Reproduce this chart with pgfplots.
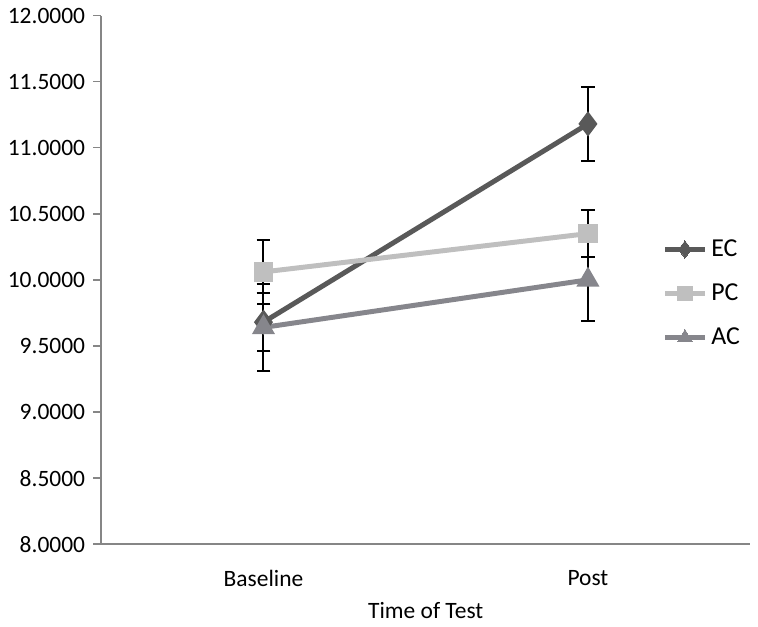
\documentclass[border=0pt]{standalone}
\usepackage{fontspec}
\setmainfont{Carlito}
\usepackage{pgfplots}
\pgfplotsset{compat=1.18}
\definecolor{ecgray}{RGB}{89,89,89}
\definecolor{pcgray}{RGB}{191,191,191}
\definecolor{acgray}{RGB}{134,134,140}
\definecolor{axgray}{RGB}{134,134,134}

\begin{document}
\fontsize{11.8}{14}\selectfont
\begin{tikzpicture}
\begin{axis}[
  width=326.5pt, height=266pt, scale only axis,
  xmin=-0.5, xmax=1.5, ymin=8, ymax=12,
  axis x line*=bottom, axis y line*=left,
  axis line style={axgray, line width=0.8pt},
  xtick={0,1}, xticklabels={Baseline,Post},
  major x tick style={draw=none},
  xticklabel style={yshift=-5pt},
  extra x ticks={-0.5,0.5,1.5}, extra x tick labels={},
  extra x tick style={tick style={axgray, line width=0.8pt}, major tick length=5pt},
  tick align=outside,
  ytick={8,8.5,...,12},
  y tick style={axgray, line width=0.8pt}, major tick length=4pt,
  yticklabel style={/pgf/number format/.cd, fixed, fixed zerofill, precision=4},
  /pgf/number format/assume math mode=true,
  xlabel={Time of Test},
  xlabel style={yshift=9pt},
  every tick label/.append style={font=\fontsize{11.8}{14}\selectfont},
  legend style={draw=none, fill=none, at={(1.0,0.474)}, anchor=east,
    row sep=8pt, font=\fontsize{13}{15}\selectfont},
  legend cell align=left,
  legend image code/.code={
    \draw[#1, mark=none] (0pt,0pt) -- (20pt,0pt);
    \draw[#1, line width=0pt] plot coordinates {(10pt,0pt)};
  },
  clip=false,
]
\addplot[ecgray, line width=2.5pt, mark=diamond*, mark size=4.3pt,
  error bars/.cd, y dir=both, y explicit,
  error bar style={black, line width=1pt},
  error mark options={black, line width=1pt, rotate=90, mark size=3.5pt}]
  coordinates {(0,9.68) +- (0,0.22) (1,11.18) +- (0,0.28)};
\addplot[pcgray, line width=2.5pt, mark=square*, mark size=3.6pt,
  error bars/.cd, y dir=both, y explicit,
  error bar style={black, line width=1pt},
  error mark options={black, line width=1pt, rotate=90, mark size=3.5pt}]
  coordinates {(0,10.06) +- (0,0.24) (1,10.35) +- (0,0.18)};
\addplot[acgray, line width=2.5pt, mark=triangle*, mark size=4.2pt,
  error bars/.cd, y dir=both, y explicit,
  error bar style={black, line width=1pt},
  error mark options={black, line width=1pt, rotate=90, mark size=3.5pt}]
  coordinates {(0,9.64) +- (0,0.33) (1,10.0) +- (0,0.31)};
\legend{EC,PC,AC}
\end{axis}
\end{tikzpicture}
\end{document}
